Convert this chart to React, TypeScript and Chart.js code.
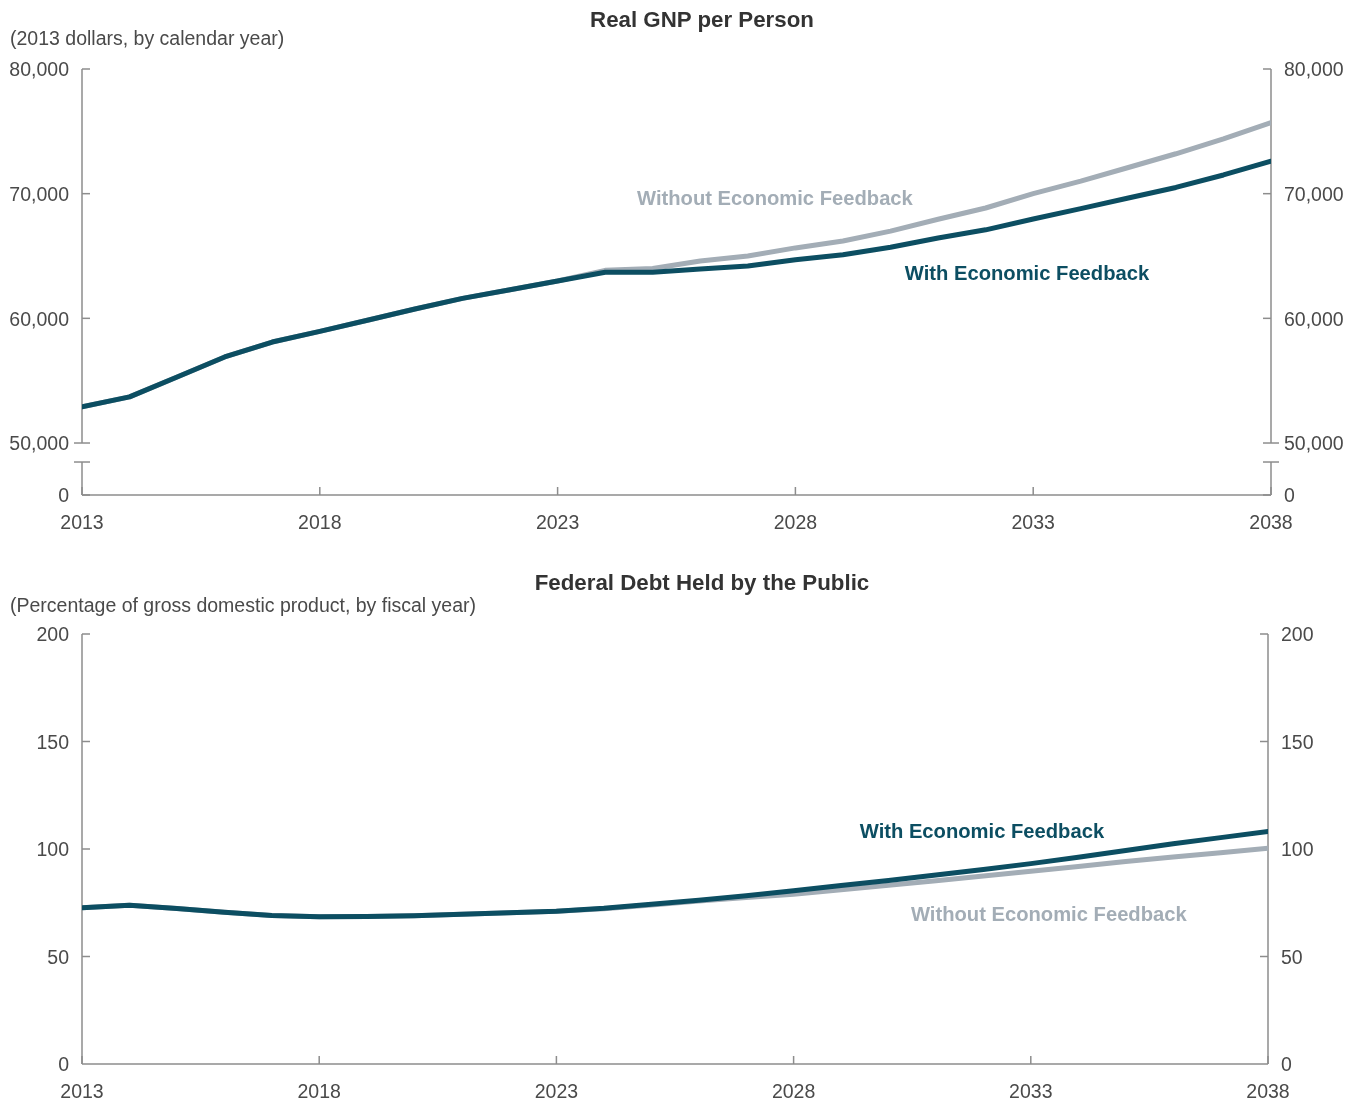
import React, { useEffect, useRef } from "react";
import { Chart, registerables } from "chart.js";

Chart.register(...registerables);

// ---------------- data ----------------
const years = [
  2013, 2014, 2015, 2016, 2017, 2018, 2019, 2020, 2021, 2022, 2023, 2024, 2025,
  2026, 2027, 2028, 2029, 2030, 2031, 2032, 2033, 2034, 2035, 2036, 2037, 2038,
];
const gnpWith = [
  52900, 53700, 55300, 56900, 58100, 58950, 59850, 60750, 61600, 62300, 63000,
  63700, 63700, 63950, 64200, 64700, 65100, 65700, 66450, 67100, 67970, 68800,
  69650, 70500, 71500, 72600,
];
const gnpWithout = [
  52900, 53700, 55300, 56900, 58100, 58950, 59850, 60750, 61600, 62300, 63000,
  63850, 64000, 64600, 65000, 65650, 66200, 67000, 67950, 68850, 70000, 71000,
  72100, 73200, 74400, 75700,
];
const debtWith = [
  72.7, 73.8, 72.3, 70.6, 69.1, 68.5, 68.6, 69.0, 69.6, 70.4, 71.1, 72.4, 74.3,
  76.2, 78.3, 80.6, 83.0, 85.4, 87.9, 90.5, 93.2, 96.2, 99.3, 102.4, 105.3,
  108.1,
];
const debtWithout = [
  72.7, 73.8, 72.3, 70.6, 69.1, 68.5, 68.6, 69.0, 69.6, 70.4, 71.1, 72.2, 74.0,
  75.8, 77.4, 79.0, 81.0, 83.1, 85.2, 87.4, 89.6, 91.9, 94.2, 96.3, 98.3, 100.3,
];
const xTicks = [2013, 2018, 2023, 2028, 2033, 2038];
const gnpTicks = [50000, 60000, 70000, 80000];
const gnpFloor = 45830; // value at the axis-break "0" position
const debtTicks = [0, 50, 100, 150, 200];

const seriesNames = ["With Economic Feedback", "Without Economic Feedback"];

// ---------------- styles ----------------
const DARK = "#0c4e62";
const GRAY = "#a3adb6";
const AXIS = "#8d8d8d";
const TEXT = "#4a4a4a";
const FONT = '"Liberation Sans", Arial, sans-serif';

type Lbl = { text: string; x: number; y: number; color: string };

const framePlugin = {
  id: "frame",
  beforeDatasetsDraw(chart: any) {
    const cfg = chart.options.plugins.frame;
    if (!cfg) return;
    const ctx = chart.ctx;
    const { left, right, bottom } = chart.chartArea;
    const ys = chart.scales.y;
    const xs = chart.scales.x;
    const T = 8;
    ctx.save();
    ctx.strokeStyle = AXIS;
    ctx.lineWidth = 1.5;
    ctx.lineCap = "butt";
    const line = (x1: number, y1: number, x2: number, y2: number) => {
      ctx.beginPath();
      ctx.moveTo(x1, y1);
      ctx.lineTo(x2, y2);
      ctx.stroke();
    };
    const topPix = ys.getPixelForValue(cfg.top);
    [left, right].forEach((ax, i) => {
      const dir = i === 0 ? 1 : -1;
      if (cfg.breakAt !== undefined) {
        const bp = ys.getPixelForValue(cfg.breakAt);
        const bTop = bp + 19;
        line(ax, topPix, ax, bp);
        line(ax, bTop, ax, bottom);
        line(ax - T, bp, ax + T, bp);
        line(ax - T, bTop, ax + T, bTop);
        cfg.ticks.forEach((v: number) => {
          if (v === cfg.breakAt) return;
          const p = ys.getPixelForValue(v);
          line(ax, p, ax + dir * T, p);
        });
      } else {
        line(ax, topPix, ax, bottom);
        cfg.ticks.forEach((v: number) => {
          if (v === cfg.ticks[0]) return;
          const p = ys.getPixelForValue(v);
          line(ax, p, ax + dir * T, p);
        });
      }
    });
    line(left, bottom, right, bottom);
    xTicks.forEach((v) => {
      const p = xs.getPixelForValue(v);
      line(p, bottom, p, bottom - T);
    });
    ctx.restore();
  },
  afterDatasetsDraw(chart: any) {
    const cfg = chart.options.plugins.frame;
    if (!cfg) return;
    const ctx = chart.ctx;
    ctx.save();
    ctx.font = `bold 20.2px ${FONT}`;
    ctx.textAlign = "center";
    ctx.textBaseline = "middle";
    (cfg.labels as Lbl[]).forEach((l) => {
      ctx.fillStyle = l.color;
      ctx.fillText(
        l.text,
        chart.scales.x.getPixelForValue(l.x),
        chart.scales.y.getPixelForValue(l.y)
      );
    });
    ctx.restore();
  },
};

type PanelProps = {
  top: number;
  height: number;
  padTop: number;
  xAxisH: number;
  rightW: number;
  withData: number[];
  withoutData: number[];
  yMin: number;
  yMax: number;
  tickVals: number[];
  tickLabel: (v: number) => string;
  breakAt?: number;
  labels: Lbl[];
  xPad: number;
};

function Panel(p: PanelProps) {
  const ref = useRef<HTMLCanvasElement | null>(null);
  useEffect(() => {
    if (!ref.current) return;
    const yTicksCfg = {
      color: TEXT,
      font: { family: FONT, size: 19.5 },
      padding: 13,
      labelOffset: 2,
      autoSkip: false,
      callback: (v: any) => p.tickLabel(Number(v)),
    };
    const buildTicks = (scale: any) => {
      scale.ticks = p.tickVals.map((v) => ({ value: v }));
    };
    const chart = new Chart(ref.current, {
      type: "line",
      data: {
        datasets: [
          {
            label: seriesNames[0],
            data: years.map((y, i) => ({ x: y, y: p.withData[i] })),
            borderColor: DARK,
            borderWidth: 5,
            pointRadius: 0,
            tension: 0,
            borderCapStyle: "round",
            borderJoinStyle: "round",
            order: 0,
          },
          {
            label: seriesNames[1],
            data: years.map((y, i) => ({ x: y, y: p.withoutData[i] })),
            borderColor: GRAY,
            borderWidth: 5,
            pointRadius: 0,
            tension: 0,
            borderCapStyle: "round",
            borderJoinStyle: "round",
            order: 1,
          },
        ],
      },
      options: {
        animation: false,
        responsive: true,
        maintainAspectRatio: false,
        layout: { padding: { top: p.padTop, left: 0, right: 0, bottom: 0 } },
        plugins: {
          legend: { display: false },
          tooltip: { enabled: false },
          title: { display: false },
          frame: {
            top: p.yMax,
            breakAt: p.breakAt,
            ticks: p.tickVals,
            labels: p.labels,
          },
        } as any,
        scales: {
          x: {
            type: "linear",
            min: 2013,
            max: 2038,
            grid: { display: false, drawTicks: false },
            border: { display: false },
            afterBuildTicks: (s: any) => {
              s.ticks = xTicks.map((v) => ({ value: v }));
            },
            afterFit: (s: any) => {
              s.height = p.xAxisH;
            },
            ticks: {
              color: TEXT,
              font: { family: FONT, size: 19.5 },
              padding: p.xPad,
              maxRotation: 0,
              autoSkip: false,
              callback: (v: any) => String(v),
            },
          },
          y: {
            type: "linear",
            position: "left",
            min: p.yMin,
            max: p.yMax,
            grid: { display: false, drawTicks: false },
            border: { display: false },
            afterBuildTicks: buildTicks,
            afterFit: (s: any) => {
              s.width = 82;
            },
            ticks: yTicksCfg as any,
          },
          y2: {
            type: "linear",
            position: "right",
            min: p.yMin,
            max: p.yMax,
            grid: { display: false, drawTicks: false },
            border: { display: false },
            afterBuildTicks: buildTicks,
            afterFit: (s: any) => {
              s.width = p.rightW;
            },
            ticks: yTicksCfg as any,
          },
        },
      },
      plugins: [framePlugin],
    } as any);
    return () => chart.destroy();
  }, []);
  return (
    <div
      style={{
        position: "absolute",
        left: 0,
        top: p.top,
        width: 1356,
        height: p.height,
      }}
    >
      <canvas ref={ref} />
    </div>
  );
}

const titleStyle = (top: number): React.CSSProperties => ({
  position: "absolute",
  left: 702,
  top,
  transform: "translateX(-50%)",
  whiteSpace: "nowrap",
  fontFamily: FONT,
  fontWeight: "bold",
  fontSize: 22.3,
  lineHeight: "24px",
  color: "#333333",
});
const subStyle = (top: number): React.CSSProperties => ({
  position: "absolute",
  left: 10,
  top,
  whiteSpace: "nowrap",
  fontFamily: FONT,
  fontSize: 19.5,
  lineHeight: "22px",
  color: TEXT,
});

export default function App() {
  const fmt = (v: number) =>
    v === gnpFloor ? "0" : v.toLocaleString("en-US");
  return (
    <div
      style={{
        position: "absolute",
        left: 0,
        top: 0,
        width: 1356,
        height: 1104,
        background: "#ffffff",
        overflow: "hidden",
      }}
    >
      <Panel
        top={0}
        height={545}
        padTop={69}
        xAxisH={50}
        rightW={85}
        withData={gnpWith}
        withoutData={gnpWithout}
        yMin={gnpFloor}
        yMax={80000}
        tickVals={[gnpFloor, ...gnpTicks]}
        tickLabel={fmt}
        breakAt={50000}
        xPad={17}
        labels={[
          { text: seriesNames[1], x: 2027.57, y: 69500, color: GRAY },
          { text: seriesNames[0], x: 2032.87, y: 63560, color: DARK },
        ]}
      />
      <Panel
        top={560}
        height={544}
        padTop={74}
        xAxisH={40}
        rightW={88}
        withData={debtWith}
        withoutData={debtWithout}
        yMin={0}
        yMax={200}
        tickVals={debtTicks}
        tickLabel={(v) => String(v)}
        xPad={17}
        labels={[
          { text: seriesNames[0], x: 2031.97, y: 107.9, color: DARK },
          { text: seriesNames[1], x: 2033.38, y: 69.3, color: GRAY },
        ]}
      />
      <div style={titleStyle(8)}>Real GNP per Person</div>
      <div style={subStyle(27)}>(2013 dollars, by calendar year)</div>
      <div style={titleStyle(571)}>Federal Debt Held by the Public</div>
      <div style={subStyle(594)}>(Percentage of gross domestic product, by fiscal year)</div>
    </div>
  );
}
